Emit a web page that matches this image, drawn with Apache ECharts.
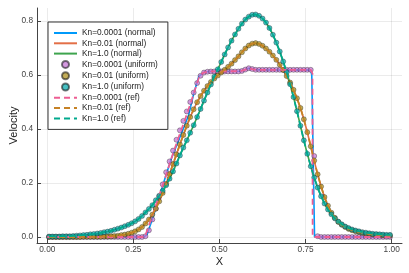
<!DOCTYPE html>
<html><head><meta charset="utf-8">
<script src="https://cdn.jsdelivr.net/npm/echarts@6/dist/echarts.min.js"></script>
<style>html,body{margin:0;padding:0;background:#fff}#c{width:409px;height:273px}</style>
</head><body><div id="c"></div>
<script>
const xUniform = [0.005,0.015,0.025,0.035,0.045,0.055,0.065,0.075,0.085,0.095,
0.105,0.115,0.125,0.135,0.145,0.155,0.165,0.175,0.185,0.195,
0.205,0.215,0.225,0.235,0.245,0.255,0.265,0.275,0.285,0.295,
0.305,0.315,0.325,0.335,0.345,0.355,0.365,0.375,0.385,0.395,
0.405,0.415,0.425,0.435,0.445,0.455,0.465,0.475,0.485,0.495,
0.505,0.515,0.525,0.535,0.545,0.555,0.565,0.575,0.585,0.595,
0.605,0.615,0.625,0.635,0.645,0.655,0.665,0.675,0.685,0.695,
0.705,0.715,0.725,0.735,0.745,0.755,0.765,0.775,0.785,0.795,
0.805,0.815,0.825,0.835,0.845,0.855,0.865,0.875,0.885,0.895,
0.905,0.915,0.925,0.935,0.945,0.955,0.965,0.975,0.985,0.995];

const uKn0001 = [0,0,0,0,0,0,0,0,0,0,
0,0,0,0,0,0,0,0,0,0,
0,0,0,0,0,0,0,0,0.003,0.025,
0.065,0.105,0.150,0.195,0.240,0.280,0.320,0.360,0.395,0.430,
0.465,0.500,0.535,0.570,0.597,0.609,0.612,0.613,0.613,0.613,
0.613,0.613,0.613,0.613,0.613,0.613,0.615,0.620,0.625,0.622,
0.619,0.619,0.619,0.619,0.619,0.619,0.619,0.619,0.619,0.619,
0.619,0.619,0.619,0.619,0.619,0.619,0.619,0.300,0.003,0,
0,0,0,0,0,0,0,0,0,0,
0,0,0,0,0,0,0,0,0,0];

const uKn001 = [0,0,0,0,0,0,0,0,0,0,
0.001,0.001,0.001,0.001,0.001,0.001,0.002,0.002,0.003,0.004,
0.005,0.007,0.009,0.012,0.016,0.021,0.028,0.037,0.050,0.065,
0.083,0.105,0.132,0.163,0.197,0.233,0.270,0.306,0.343,0.378,
0.412,0.444,0.473,0.499,0.522,0.542,0.559,0.574,0.587,0.598,
0.609,0.619,0.630,0.642,0.655,0.669,0.684,0.698,0.709,0.716,
0.718,0.715,0.708,0.698,0.686,0.672,0.656,0.638,0.618,0.596,
0.572,0.545,0.514,0.478,0.436,0.388,0.336,0.283,0.232,0.187,
0.148,0.116,0.090,0.071,0.056,0.045,0.037,0.030,0.025,0.021,
0.018,0.015,0.013,0.011,0.009,0.008,0.007,0.006,0.005,0.005];

const uKn1 = [0.002,0.002,0.002,0.002,0.003,0.003,0.003,0.004,0.005,0.006,
0.007,0.008,0.010,0.011,0.013,0.015,0.018,0.020,0.023,0.027,
0.031,0.035,0.040,0.045,0.051,0.058,0.067,0.078,0.091,0.104,
0.118,0.136,0.153,0.171,0.192,0.216,0.243,0.272,0.302,0.331,
0.358,0.386,0.414,0.444,0.474,0.505,0.535,0.565,0.594,0.621,
0.648,0.676,0.702,0.727,0.750,0.771,0.790,0.805,0.816,0.823,
0.824,0.819,0.809,0.794,0.774,0.749,0.720,0.687,0.650,0.610,
0.566,0.518,0.466,0.412,0.358,0.308,0.262,0.220,0.183,0.151,
0.124,0.102,0.084,0.069,0.057,0.047,0.039,0.033,0.028,0.024,
0.021,0.018,0.016,0.014,0.012,0.011,0.010,0.009,0.008,0.008];

const nKn0001X = [0, 0.28, 0.29, 0.31, 0.34, 0.36, 0.39, 0.41, 0.425, 0.44, 0.455, 0.47, 0.56, 0.575, 0.585, 0.60, 0.62, 0.765, 0.768, 0.776, 1.0];
const nKn0001Y = [0, 0, 0.01, 0.085, 0.21, 0.29, 0.385, 0.45, 0.53, 0.595, 0.61, 0.613, 0.614, 0.62, 0.625, 0.62, 0.619, 0.618, 0.60, 0, 0];
const rKn0001X = [0, 0.283, 0.30, 0.32, 0.34, 0.36, 0.38, 0.40, 0.42, 0.44, 0.452, 0.47, 0.56, 0.575, 0.585, 0.60, 0.62, 0.765, 0.770, 0.7705, 1.0];
const rKn0001Y = [0, 0, 0.06, 0.135, 0.21, 0.29, 0.365, 0.435, 0.51, 0.59, 0.608, 0.613, 0.614, 0.62, 0.625, 0.62, 0.619, 0.619, 0.605, 0, 0];

const xTicks = [0, 0.25, 0.5, 0.75, 1.0];
const yTicks = [0, 0.2, 0.4, 0.6, 0.8];
const seriesNames = ['Kn=0.0001 (normal)','Kn=0.01 (normal)','Kn=1.0 (normal)',
 'Kn=0.0001 (uniform)','Kn=0.01 (uniform)','Kn=1.0 (uniform)',
 'Kn=0.0001 (ref)','Kn=0.01 (ref)','Kn=1.0 (ref)'];
const colors = ['#009AFA','#E36F47','#3EA44E','#C371D2','#AC8E18','#00A9AD','#ED5E93','#C68225','#00A98D'];

function pairs(xs, ys){ return xs.map((x,i)=>[x, ys[i]]); }

const lineData = [pairs(nKn0001X,nKn0001Y), pairs(xUniform,uKn001), pairs(xUniform,uKn1)];
const scatData = [pairs(xUniform,uKn0001), pairs(xUniform,uKn001), pairs(xUniform,uKn1)];
const refData = [pairs(rKn0001X,rKn0001Y), pairs(xUniform,uKn001), pairs(xUniform,uKn1)];

const series = [];
for (let k=0;k<3;k++) series.push({
  name: seriesNames[k], type:'line', data: lineData[k], symbol:'none', showSymbol:false,
  lineStyle:{color:colors[k], width:1.6}, itemStyle:{color:colors[k]}, z:2
});
for (let k=0;k<3;k++) series.push({
  name: seriesNames[3+k], type:'scatter', data: scatData[k], symbol:'circle', symbolSize:5,
  itemStyle:{color:colors[3+k], opacity:0.72, borderColor:'rgba(20,20,20,0.8)', borderWidth:0.6}, z:3
});
for (let k=0;k<3;k++) series.push({
  name: seriesNames[6+k], type:'line', data: refData[k], symbol:'none', showSymbol:false,
  lineStyle:{color:colors[6+k], width:1.8, type:[6,4]}, itemStyle:{color:colors[6+k]}, z:4
});

const legendData = seriesNames.map((n,i)=> (i>=3 && i<6) ? {name:n} : {name:n, itemStyle:{opacity:0}});

const chart = echarts.init(document.getElementById('c'), null, {renderer:'canvas'});
const font = 'Liberation Sans, Arial, sans-serif';
chart.setOption({
  animation:false,
  backgroundColor:'#fff',
  grid:{left:37, right:7, top:8, bottom:30, containLabel:false, outerBoundsMode:'none'},
  xAxis:{type:'value', min:-0.03, max:1.03, name:'X', nameLocation:'middle', nameGap:13, nameMoveOverlap:false,
    nameTextStyle:{fontSize:11, color:'#222', fontFamily:font},
    axisLine:{onZero:false, lineStyle:{color:'#444', width:1}},
    axisTick:{inside:true, length:4, customValues:xTicks, lineStyle:{color:'#444'}},
    axisLabel:{customValues:xTicks, formatter:v=>v.toFixed(2), fontSize:8.3, color:'#444', margin:3, fontFamily:font},
    splitLine:{show:true, lineStyle:{color:'rgba(0,0,0,0.08)', width:1}}},
  yAxis:{type:'value', min:-0.0222, max:0.848, name:'Velocity', nameLocation:'middle', nameGap:18, nameMoveOverlap:false,
    nameTextStyle:{fontSize:11, color:'#222', fontFamily:font},
    axisLine:{onZero:false, lineStyle:{color:'#444', width:1}},
    axisTick:{inside:true, length:4, customValues:yTicks, lineStyle:{color:'#444'}},
    axisLabel:{customValues:yTicks, formatter:v=>v.toFixed(1), fontSize:8.3, color:'#444', margin:4, fontFamily:font},
    splitLine:{show:true, lineStyle:{color:'rgba(0,0,0,0.08)', width:1}}},
  legend:{data:legendData, orient:'vertical', left:48, top:22, itemWidth:23, itemHeight:7, itemGap:2.3,
    padding:[7,10,7,5], borderColor:'#333', borderWidth:1, backgroundColor:'#fff',
    textStyle:{fontSize:8.3, color:'#222', fontFamily:font, lineHeight:8}},
  series: series
});
</script></body></html>
